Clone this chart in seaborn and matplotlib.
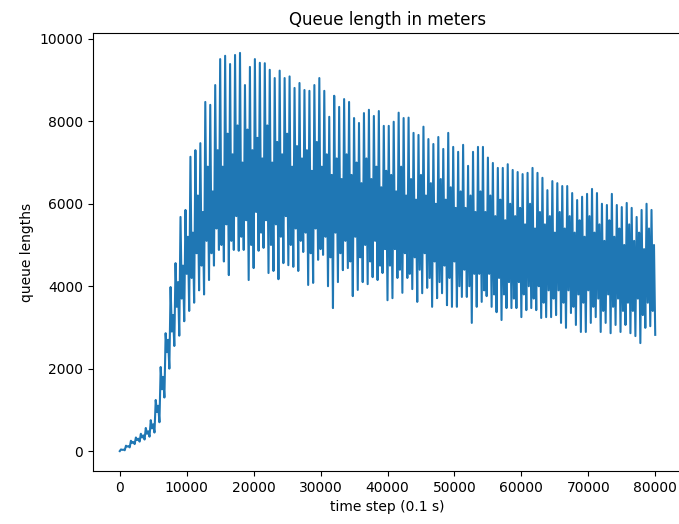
import numpy as np
import pandas as pd
import matplotlib
matplotlib.use("Agg")
import matplotlib.pyplot as plt
import seaborn as sns

# Values, one entry per signal cycle:
# the spike top, the dense inner band (low / high) and the following trough
start_value = 0

peaks = [
    # 0 - 4500
    40, 130, 250, 330, 420, 560,
    # ~5000 - 16500
    750, 1240, 2040, 2860, 3980, 4560, 5680, 5850, 7140, 7300, 7470, 8470, 8400, 8880, 9510, 9590,
    # ~17000 - 27500
    9390, 9610, 9660, 8880, 9320, 9510, 9420, 9410, 9250, 9050, 9230, 9050, 9090, 8810, 8930,
    # ~28000 - 40000
    8760, 8740, 8880, 9050, 8740, 8110, 8620, 8350, 8540, 8470, 8080, 7960, 8200, 8280, 8130, 8250, 7890,
    # ~40500 - 53000
    7890, 7990, 8210, 8080, 8090, 7720, 7670, 7870, 7570, 7450, 7620, 7330, 7720, 7380, 7260, 7430, 6920, 7260,
    # ~53500 - 66500
    7380, 7380, 7120, 6990, 6870, 6870, 6960, 6820, 6770, 6720, 6750, 6870, 6750, 6630, 6330, 6550, 6500, 6430,
    # ~67000 - 80000
    6430, 6260, 6090, 6170, 6240, 6360, 6260, 6000, 5970, 6240, 5970, 5920, 6020, 5900, 5680, 5850, 6000, 5850,
]

inner_low = [
    30, 110, 200, 270, 330, 420,
    550, 950, 1500, 2400, 2900, 3500, 3700, 4300, 4200, 4800, 4500, 5100, 4800, 5400, 5000, 5500,
    5100, 5700, 5200, 5600, 5000, 5800, 5300, 5600, 5000, 5500, 5200, 5700, 5000, 5400, 5100,
    5300, 4800, 5400, 4900, 5200, 4700, 5300, 4800, 5100, 4600, 5200, 4700, 5000, 4600, 5100, 4500, 4900,
    4500, 4900, 4400, 4800, 4300, 4700, 4400, 4800, 4200, 4600, 4100, 4500, 4200, 4600, 4000, 4400, 4000, 4300,
    4300, 3900, 4300, 3800, 4200, 3800, 4100, 3700, 4100, 3800, 4000, 3700, 4000, 3600, 3900, 3700, 3900, 3600,
    3900, 3500, 3800, 3600, 3900, 3500, 3700, 3400, 3800, 3500, 3700, 3400, 3600, 3400, 3700, 3300, 3600, 3400,
]

inner_high = [
    35, 120, 220, 300, 380, 480,
    650, 1100, 1800, 2700, 3300, 4100, 4500, 5200, 5300, 6200, 5800, 6900, 6300, 7300, 6900, 7700,
    7200, 7900, 7000, 7800, 7300, 7600, 7100, 7900, 7000, 7500, 7200, 7700, 6900, 7400, 7100,
    7300, 6800, 7500, 6900, 7200, 6700, 7100, 6600, 7200, 6700, 7000, 6500, 7100, 6600, 6900, 6400, 6800,
    6700, 6300, 6900, 6200, 6600, 6100, 6700, 6200, 6500, 6000, 6600, 6100, 6400, 5900, 6300, 5900, 6200, 5800,
    6300, 5800, 6200, 5700, 6100, 5600, 6000, 5700, 5900, 5500, 6000, 5400, 5800, 5500, 5700, 5300, 5800, 5400,
    5700, 5300, 5600, 5200, 5700, 5300, 5500, 5100, 5600, 5200, 5400, 5000, 5500, 5100, 5300, 4900, 5400, 5000,
]

troughs = [
    20, 90, 170, 230, 280, 350,
    450, 700, 1300, 2000, 2550, 2800, 3150, 3400, 3600, 3900, 3800, 4150, 4500, 4880, 4600, 4270,
    4880, 4860, 4880, 4150, 4440, 4860, 4930, 4320, 4370, 4170, 4560, 4510, 4470, 4370, 4830,
    4030, 4080, 4640, 4760, 4000, 3470, 4100, 4390, 4440, 3760, 3910, 4100, 4050, 4220, 4150, 4320, 3660,
    3710, 4200, 3840, 4200, 3930, 3620, 3830, 3960, 3500, 3710, 3830, 3540, 3500, 3500, 3740, 3740, 3110, 3500,
    3620, 3760, 3500, 3370, 3180, 3470, 3470, 3470, 3250, 3420, 3470, 3420, 3230, 3250, 3250, 3300, 3110, 2990,
    3350, 3060, 2890, 2890, 3110, 3250, 2890, 3110, 2860, 3060, 2890, 3060, 2860, 2790, 2620, 2990, 3030, 2820,
]

t_start, t_end = 0, 80000

title = "Queue length in meters"
xlabel = "time step (0.1 s)"
ylabel = "queue lengths"

# Build the series: start, then peak / inner low / inner high / trough per cycle
values = [start_value]
for p, lo, hi, tr in zip(peaks, inner_low, inner_high, troughs):
    values.extend([p, lo, hi, tr])
values = np.array(values, dtype=float)
steps = np.linspace(t_start, t_end, len(values))
df = pd.DataFrame({"step": steps, "queue": values})

fig = plt.figure(figsize=(6.79, 5.24), dpi=100)
ax = fig.add_axes([93 / 679, 1 - 471 / 524, (682 - 93) / 679, (471 - 33) / 524])
sns.lineplot(data=df, x="step", y="queue", ax=ax, color="#1f77b4",
             linewidth=1.5, estimator=None, sort=False)
ax.set_title(title)
ax.set_xlabel(xlabel)
ax.set_ylabel(ylabel)
ax.set_xticks(np.arange(0, 80001, 10000))
ax.set_yticks(np.arange(0, 10001, 2000))
fig.savefig("out.png", dpi=100)
